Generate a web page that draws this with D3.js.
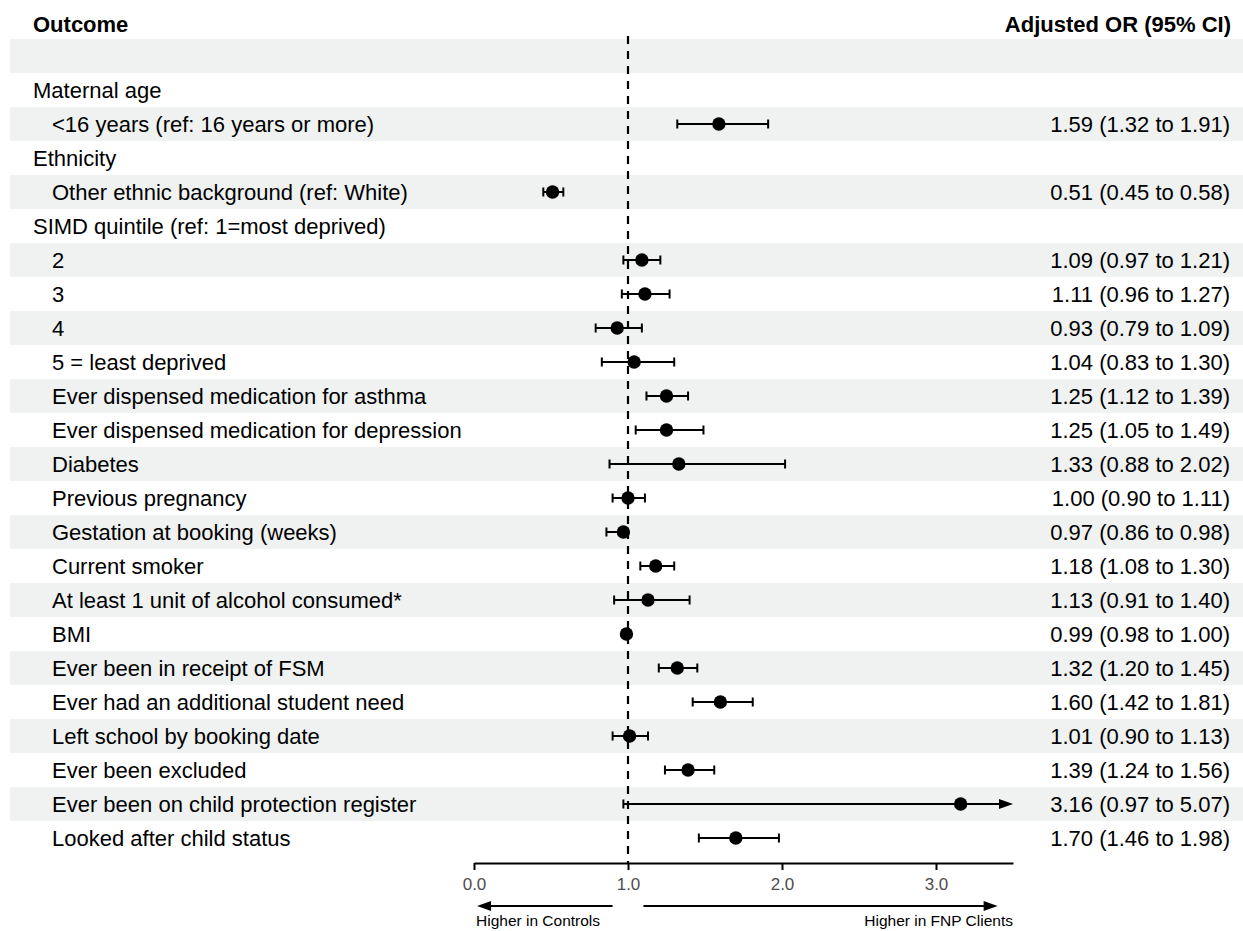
<!DOCTYPE html>
<html>
<head>
<meta charset="utf-8">
<script src="https://cdn.jsdelivr.net/npm/d3@7"></script>
<style>
  html, body { margin: 0; padding: 0; background: #fff; }
  svg { display: block; font-family: "Liberation Sans", Arial, Helvetica, sans-serif; }
</style>
</head>
<body>
<svg id="chart" width="1243" height="931"></svg>
<script>
// ---- data ----
const labels = [
  "",
  "Maternal age",
  "<16 years (ref: 16 years or more)",
  "Ethnicity",
  "Other ethnic background (ref: White)",
  "SIMD quintile (ref: 1=most deprived)",
  "2",
  "3",
  "4",
  "5 = least deprived",
  "Ever dispensed medication for asthma",
  "Ever dispensed medication for depression",
  "Diabetes",
  "Previous pregnancy",
  "Gestation at booking (weeks)",
  "Current smoker",
  "At least 1 unit of alcohol consumed*",
  "BMI",
  "Ever been in receipt of FSM",
  "Ever had an additional student need",
  "Left school by booking date",
  "Ever been excluded",
  "Ever been on child protection register",
  "Looked after child status"
];
const isGroup = [false, true, false, true, false, true, false, false, false, false, false, false,
  false, false, false, false, false, false, false, false, false, false, false, false];
const orValues = [null, null, 1.59, null, 0.51, null, 1.09, 1.11, 0.93, 1.04, 1.25, 1.25,
  1.33, 1.00, 0.97, 1.18, 1.13, 0.99, 1.32, 1.60, 1.01, 1.39, 3.16, 1.70];
const ciLower = [null, null, 1.32, null, 0.45, null, 0.97, 0.96, 0.79, 0.83, 1.12, 1.05,
  0.88, 0.90, 0.86, 1.08, 0.91, 0.98, 1.20, 1.42, 0.90, 1.24, 0.97, 1.46];
const ciUpper = [null, null, 1.91, null, 0.58, null, 1.21, 1.27, 1.09, 1.30, 1.39, 1.49,
  2.02, 1.11, 0.98, 1.30, 1.40, 1.00, 1.45, 1.81, 1.13, 1.56, 5.07, 1.98];
const ciText = ["", "", "1.59 (1.32 to 1.91)", "", "0.51 (0.45 to 0.58)", "",
  "1.09 (0.97 to 1.21)", "1.11 (0.96 to 1.27)", "0.93 (0.79 to 1.09)", "1.04 (0.83 to 1.30)",
  "1.25 (1.12 to 1.39)", "1.25 (1.05 to 1.49)", "1.33 (0.88 to 2.02)", "1.00 (0.90 to 1.11)",
  "0.97 (0.86 to 0.98)", "1.18 (1.08 to 1.30)", "1.13 (0.91 to 1.40)", "0.99 (0.98 to 1.00)",
  "1.32 (1.20 to 1.45)", "1.60 (1.42 to 1.81)", "1.01 (0.90 to 1.13)", "1.39 (1.24 to 1.56)",
  "3.16 (0.97 to 5.07)", "1.70 (1.46 to 1.98)"];
const xTicks = [0, 1, 2, 3];
const xMax = 3.5;
const refValue = 1;
const headers = ["Outcome", "Adjusted OR (95% CI)"];
const directionLabels = ["Higher in Controls", "Higher in FNP Clients"];

// ---- layout ----
const svg = d3.select("#chart");
const rows = labels.map((l, i) => ({
  i, label: l, group: isGroup[i], or: orValues[i], lo: ciLower[i], hi: ciUpper[i], txt: ciText[i]
}));

const y = d3.scaleBand().domain(d3.range(labels.length)).range([39, 39 + 34 * labels.length]).padding(0);
const x = d3.scaleLinear().domain([0, xMax]).range([474, 1013]);
const axisY = 863;
const fontSize = 22;
const sw = 2;

// background bands
svg.append("g").selectAll("rect")
  .data(rows.filter(d => d.i % 2 === 0))
  .join("rect")
  .attr("x", 10).attr("width", 1233)
  .attr("y", d => y(d.i)).attr("height", y.bandwidth())
  .attr("fill", "#eff2f1");

// headers
svg.append("text").attr("x", 33).attr("y", 24).attr("dy", "0.35em")
  .attr("font-size", fontSize).attr("font-weight", "bold").text(headers[0]);
svg.append("text").attr("x", 1231).attr("y", 24).attr("dy", "0.35em")
  .attr("text-anchor", "end")
  .attr("font-size", fontSize).attr("font-weight", "bold").text(headers[1]);

// labels
svg.append("g").selectAll("text")
  .data(rows.filter(d => d.label !== ""))
  .join("text")
  .attr("x", d => d.group ? 33 : 52)
  .attr("y", d => y(d.i) + y.bandwidth() / 2)
  .attr("dy", "0.35em")
  .attr("font-size", fontSize)
  .attr("fill", "#000")
  .text(d => d.label);

// right text
svg.append("g").selectAll("text")
  .data(rows.filter(d => d.txt !== ""))
  .join("text")
  .attr("x", 1230)
  .attr("y", d => y(d.i) + y.bandwidth() / 2)
  .attr("dy", "0.35em")
  .attr("text-anchor", "end")
  .attr("font-size", fontSize)
  .attr("fill", "#000")
  .text(d => d.txt);

// reference dashed line
svg.append("line")
  .attr("x1", x(refValue)).attr("x2", x(refValue))
  .attr("y1", 36).attr("y2", axisY)
  .attr("stroke", "#000").attr("stroke-width", 2.2)
  .attr("stroke-dasharray", "8,7");

// error bars
const est = rows.filter(d => d.or !== null);
const g = svg.append("g");
const capH = 4.5;
est.forEach(d => {
  const cy = y(d.i) + y.bandwidth() / 2;
  const clipped = d.hi > xMax;
  const x1 = x(d.lo);
  const x2 = clipped ? x(xMax) - 10 : x(d.hi);
  g.append("line").attr("x1", x1).attr("x2", x2).attr("y1", cy).attr("y2", cy)
    .attr("stroke", "#000").attr("stroke-width", sw);
  g.append("line").attr("x1", x1).attr("x2", x1).attr("y1", cy - capH).attr("y2", cy + capH)
    .attr("stroke", "#000").attr("stroke-width", sw);
  if (clipped) {
    const tip = x(xMax);
    g.append("path")
      .attr("d", `M${tip},${cy} L${tip - 14},${cy - 5} L${tip - 14},${cy + 5} Z`)
      .attr("fill", "#000");
  } else {
    g.append("line").attr("x1", x2).attr("x2", x2).attr("y1", cy - capH).attr("y2", cy + capH)
      .attr("stroke", "#000").attr("stroke-width", sw);
  }
  g.append("circle").attr("cx", x(d.or)).attr("cy", cy).attr("r", 6.7).attr("fill", "#000");
});

// axis
const axis = d3.axisBottom(x).tickValues(xTicks).tickFormat(d3.format(".1f"))
  .tickSize(7).tickSizeOuter(0).tickPadding(8);
const ag = svg.append("g").attr("transform", `translate(0,${axisY})`).call(axis);
ag.attr("font-size", 17).attr("font-family", "Liberation Sans, Arial, sans-serif");
ag.select(".domain").attr("stroke", "#000").attr("stroke-width", sw);
ag.selectAll(".tick line").attr("stroke", "#000").attr("stroke-width", sw);
ag.selectAll(".tick text").attr("font-size", 17).attr("fill", "#4d4d4d");

// direction arrows
const arrY = 906;
const arrows = [
  { from: 0.9, to: 0.02 },
  { from: 1.1, to: 3.4 }
];
arrows.forEach(a => {
  const dir = a.to > a.from ? 1 : -1;
  const tip = x(a.to);
  svg.append("line").attr("x1", x(a.from)).attr("x2", tip - dir * 10)
    .attr("y1", arrY).attr("y2", arrY).attr("stroke", "#000").attr("stroke-width", sw);
  svg.append("path")
    .attr("d", `M${tip},${arrY} L${tip - dir * 14},${arrY - 5} L${tip - dir * 14},${arrY + 5} Z`)
    .attr("fill", "#000");
});
svg.append("text").attr("x", x(0) + 2).attr("y", 921).attr("dy", "0.35em")
  .attr("font-size", 15.5).attr("fill", "#000").text(directionLabels[0]);
svg.append("text").attr("x", x(xMax)).attr("y", 921).attr("dy", "0.35em")
  .attr("text-anchor", "end")
  .attr("font-size", 15.5).attr("fill", "#000").text(directionLabels[1]);
</script>
</body>
</html>
